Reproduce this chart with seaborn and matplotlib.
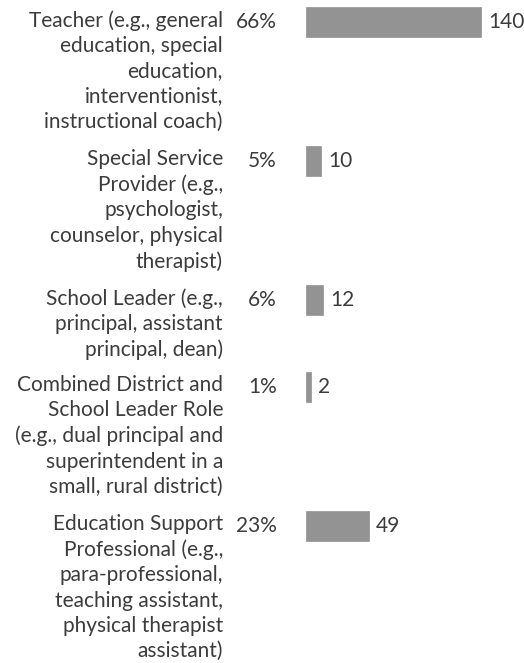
import numpy as np
import pandas as pd
import seaborn as sns
import matplotlib.pyplot as plt

roles = [
    "Teacher (e.g., general\neducation, special\neducation,\ninterventionist,\ninstructional coach)",
    "Special Service\nProvider (e.g.,\npsychologist,\ncounselor, physical\ntherapist)",
    "School Leader (e.g.,\nprincipal, assistant\nprincipal, dean)",
    "Combined District and\nSchool Leader Role\n(e.g., dual principal and\nsuperintendent in a\nsmall, rural district)",
    "Education Support\nProfessional (e.g.,\npara-professional,\nteaching assistant,\nphysical therapist\nassistant)",
]
counts = [140, 10, 12, 2, 49]
percents = ["66%", "5%", "6%", "1%", "23%"]

W, H = 524, 663
line_px = 26.0
gap_px = 9.0
bar_px = 30.0
edge_px = 2.7
first_center = 22.0
x0_px = 306.0 + edge_px / 2
px_per_unit = 1.23

# slot positions from number of label lines
lines = [r.count("\n") + 1 for r in roles]
pos = [first_center]
for n in lines[:-1]:
    pos.append(pos[-1] + n * line_px + gap_px)
pos = np.array(pos)

df = pd.DataFrame({"role": roles, "count": counts, "pos": pos})

sns.set_style("white")
plt.rcParams['font.family'] = ['Lato', 'DejaVu Sans']
text_color = "#3c3c3c"
bar_color = "#939393"

fig = plt.figure(figsize=(W / 100, H / 100), dpi=100)
ax = fig.add_axes([0, 0, 1, 1])

min_diff = np.min(np.diff(np.sort(pos)))
sns.barplot(data=df, x="count", y="pos", orient="h", native_scale=True,
            color=bar_color, saturation=1, width=(bar_px - edge_px) / min_diff,
            edgecolor=bar_color, linewidth=edge_px * 0.72, ax=ax)

ax.set_xlim(-x0_px / px_per_unit, (W - x0_px) / px_per_unit)
ax.set_ylim(H, 0)
ax.axis("off")

fs = 15
for p, role, c, pct in zip(pos, roles, counts, percents):
    ax.text(223 / W, p - 12, role, transform=ax.get_yaxis_transform(),
            ha="right", va="top", fontsize=fs, color=text_color, linespacing=1.33)
    ax.text(277 / W, p, pct, transform=ax.get_yaxis_transform(),
            ha="right", va="center", fontsize=fs, color=text_color)
    ax.text(c + (edge_px / 2 + 7) / px_per_unit, p, str(c), ha="left", va="center",
            fontsize=fs, color=text_color)

fig.savefig("out.png", dpi=100)
